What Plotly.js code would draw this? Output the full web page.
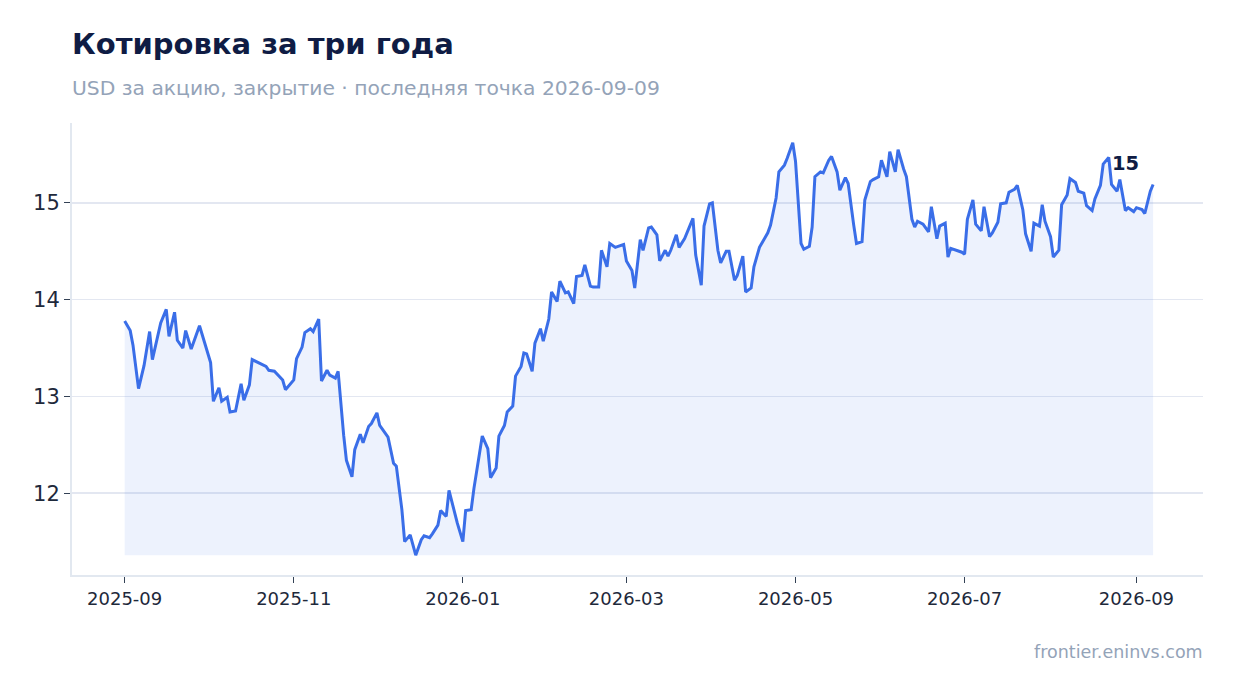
<!DOCTYPE html>
<html>
<head>
<meta charset="utf-8">
<script src="https://cdn.plot.ly/plotly-3.0.1.min.js"></script>
<style>
  html, body { margin: 0; padding: 0; background: #ffffff; }
  #chart { width: 1234px; height: 693px; }
</style>
</head>
<body>
<div id="chart"></div>
<script>
// ------------------------------------------------------------
// данные
// ------------------------------------------------------------
const dates = [
  '2025-09-01','2025-09-03','2025-09-04','2025-09-06','2025-09-08','2025-09-10','2025-09-11','2025-09-14',
  '2025-09-16','2025-09-17','2025-09-19','2025-09-20','2025-09-22','2025-09-23','2025-09-25','2025-09-28',
  '2025-10-02','2025-10-03','2025-10-05','2025-10-06','2025-10-08','2025-10-09','2025-10-11','2025-10-13',
  '2025-10-14','2025-10-16','2025-10-17','2025-10-20','2025-10-22','2025-10-23','2025-10-25','2025-10-28',
  '2025-10-29','2025-11-01','2025-11-02','2025-11-04','2025-11-05','2025-11-07','2025-11-08','2025-11-10',
  '2025-11-11','2025-11-13','2025-11-14','2025-11-16','2025-11-17','2025-11-19','2025-11-20','2025-11-22',
  '2025-11-23','2025-11-25','2025-11-26','2025-11-28','2025-11-29','2025-12-01','2025-12-02','2025-12-05',
  '2025-12-07','2025-12-08','2025-12-10','2025-12-11','2025-12-13','2025-12-15','2025-12-17','2025-12-18',
  '2025-12-20','2025-12-21','2025-12-23','2025-12-24','2025-12-26','2025-12-27','2025-12-29','2025-12-30',
  '2026-01-01','2026-01-02','2026-01-04','2026-01-05','2026-01-07','2026-01-08','2026-01-10','2026-01-11',
  '2026-01-13','2026-01-14','2026-01-16','2026-01-17','2026-01-19','2026-01-20','2026-01-22','2026-01-23',
  '2026-01-24','2026-01-26','2026-01-27','2026-01-29','2026-01-30','2026-02-01','2026-02-02','2026-02-04',
  '2026-02-05','2026-02-07','2026-02-08','2026-02-10','2026-02-11','2026-02-13','2026-02-14','2026-02-16',
  '2026-02-17','2026-02-19','2026-02-20','2026-02-22','2026-02-23','2026-02-25','2026-02-26','2026-02-28',
  '2026-03-01','2026-03-03','2026-03-04','2026-03-06','2026-03-07','2026-03-09','2026-03-10','2026-03-12',
  '2026-03-13','2026-03-15','2026-03-16','2026-03-17','2026-03-19','2026-03-20','2026-03-22','2026-03-23',
  '2026-03-25','2026-03-26','2026-03-28','2026-03-29','2026-03-31','2026-04-01','2026-04-03','2026-04-04',
  '2026-04-06','2026-04-07','2026-04-09','2026-04-10','2026-04-12','2026-04-13','2026-04-15','2026-04-16',
  '2026-04-18','2026-04-19','2026-04-21','2026-04-22','2026-04-24','2026-04-25','2026-04-27','2026-04-28',
  '2026-04-30','2026-05-01','2026-05-03','2026-05-04','2026-05-06','2026-05-07','2026-05-08','2026-05-10',
  '2026-05-11','2026-05-13','2026-05-14','2026-05-16','2026-05-17','2026-05-19','2026-05-20','2026-05-22',
  '2026-05-23','2026-05-25','2026-05-26','2026-05-28','2026-05-29','2026-05-31','2026-06-01','2026-06-03',
  '2026-06-04','2026-06-06','2026-06-07','2026-06-09','2026-06-10','2026-06-12','2026-06-13','2026-06-14',
  '2026-06-16','2026-06-18','2026-06-19','2026-06-21','2026-06-22','2026-06-24','2026-06-25','2026-06-26',
  '2026-06-28','2026-06-30','2026-07-01','2026-07-02','2026-07-04','2026-07-05','2026-07-07','2026-07-08',
  '2026-07-10','2026-07-11','2026-07-13','2026-07-14','2026-07-16','2026-07-17','2026-07-19','2026-07-20',
  '2026-07-22','2026-07-23','2026-07-25','2026-07-26','2026-07-28','2026-07-29','2026-07-30','2026-08-01',
  '2026-08-02','2026-08-04','2026-08-05','2026-08-07','2026-08-08','2026-08-10','2026-08-11','2026-08-13',
  '2026-08-14','2026-08-16','2026-08-17','2026-08-19','2026-08-20','2026-08-22','2026-08-23','2026-08-25',
  '2026-08-26','2026-08-28','2026-08-29','2026-08-31','2026-09-01','2026-09-03','2026-09-04','2026-09-06',
  '2026-09-07'
]

const closePrices = [
  13.78, 13.68, 13.53, 13.08, 13.32, 13.67, 13.38, 13.76,
  13.90, 13.62, 13.87, 13.58, 13.50, 13.68, 13.49, 13.73,
  13.35, 12.95, 13.09, 12.95, 12.99, 12.84, 12.85, 13.13,
  12.96, 13.12, 13.38, 13.34, 13.31, 13.27, 13.26, 13.17,
  13.07, 13.17, 13.39, 13.51, 13.66, 13.70, 13.67, 13.80,
  13.16, 13.27, 13.22, 13.19, 13.26, 12.60, 12.34, 12.17,
  12.45, 12.61, 12.52, 12.69, 12.72, 12.83, 12.70, 12.58,
  12.31, 12.28, 11.83, 11.50, 11.57, 11.36, 11.52, 11.56,
  11.54, 11.58, 11.67, 11.82, 11.76, 12.03, 11.79, 11.69,
  11.50, 11.82, 11.83, 12.05, 12.41, 12.59, 12.46, 12.16,
  12.26, 12.59, 12.70, 12.84, 12.90, 13.21, 13.31, 13.45,
  13.44, 13.26, 13.55, 13.70, 13.57, 13.80, 14.08, 13.98,
  14.19, 14.07, 14.08, 13.96, 14.24, 14.25, 14.36, 14.14,
  14.13, 14.13, 14.51, 14.34, 14.58, 14.54, 14.55, 14.57,
  14.40, 14.30, 14.12, 14.62, 14.51, 14.74, 14.75, 14.67,
  14.40, 14.51, 14.45, 14.51, 14.67, 14.54, 14.63, 14.70,
  14.84, 14.46, 14.15, 14.76, 14.99, 15.00, 14.51, 14.38,
  14.50, 14.50, 14.20, 14.25, 14.45, 14.08, 14.12, 14.34,
  14.54, 14.59, 14.69, 14.77, 15.05, 15.32, 15.39, 15.46,
  15.62, 15.43, 14.58, 14.52, 14.55, 14.75, 15.27, 15.32,
  15.31, 15.44, 15.48, 15.32, 15.13, 15.26, 15.20, 14.77,
  14.58, 14.60, 15.03, 15.22, 15.24, 15.27, 15.44, 15.27,
  15.53, 15.32, 15.55, 15.35, 15.27, 14.83, 14.75, 14.81,
  14.78, 14.70, 14.96, 14.63, 14.76, 14.79, 14.44, 14.53,
  14.51, 14.49, 14.47, 14.83, 15.03, 14.78, 14.71, 14.96,
  14.65, 14.69, 14.80, 14.99, 15.00, 15.11, 15.14, 15.18,
  14.93, 14.68, 14.50, 14.79, 14.76, 14.98, 14.81, 14.65,
  14.44, 14.51, 14.98, 15.08, 15.25, 15.21, 15.12, 15.10,
  14.97, 14.92, 15.04, 15.18, 15.40, 15.47, 15.19, 15.12,
  15.24, 14.92, 14.95, 14.91, 14.95, 14.93, 14.89, 15.12,
  15.19
]

const yTicks = [12, 13, 14, 15]

// ------------------------------------------------------------
// графика
// ------------------------------------------------------------
const lineColor = '#3a6ee8'
const minPrice = Math.min(...closePrices)
const lastDate = dates[dates.length - 1]
const lastPrice = closePrices[closePrices.length - 1]

// нижняя граница заливки (по минимуму ряда)
const baseTrace = {
  x: dates,
  y: dates.map(() => minPrice),
  type: 'scatter',
  mode: 'lines',
  line: { width: 0, color: 'rgba(0,0,0,0)' },
  hoverinfo: 'skip',
  showlegend: false
}

const priceTrace = {
  x: dates,
  y: closePrices,
  type: 'scatter',
  mode: 'lines',
  fill: 'tonexty',
  fillcolor: 'rgba(58,110,232,0.09)',
  line: { color: lineColor, width: 3 },
  showlegend: false
}

const layout = {
  width: 1234,
  height: 693,
  paper_bgcolor: '#ffffff',
  plot_bgcolor: '#ffffff',
  font: { family: 'DejaVu Sans, sans-serif', color: '#1e293b' },
  margin: { l: 72, r: 31, t: 123, b: 118 },
  title: {
    text: '<b>Котировка за три года</b>',
    font: { size: 29, color: '#0f1c44', family: 'DejaVu Sans, sans-serif' },
    xref: 'container', yref: 'container',
    x: 72 / 1234, xanchor: 'left',
    y: 1 - 44 / 693, yanchor: 'middle'
  },
  xaxis: {
    type: 'date',
    range: ['2025-08-13', '2026-09-25'],
    tick0: '2025-09-01',
    dtick: 'M2',
    tickformat: '%Y-%m',
    ticks: 'outside',
    ticklen: 6,
    tickcolor: '#334155',
    tickfont: { size: 18, color: '#1e293b' },
    showgrid: false,
    showline: true,
    linecolor: '#e2e8f0',
    linewidth: 2,
    zeroline: false
  },
  yaxis: {
    range: [11.155, 15.825],
    tickvals: yTicks,
    ticks: 'outside',
    ticklen: 6,
    tickcolor: '#334155',
    tickfont: { size: 21, color: '#1e293b' },
    showgrid: true,
    gridcolor: '#e3e7f1',
    gridwidth: 1.5,
    showline: true,
    linecolor: '#e2e8f0',
    linewidth: 2,
    zeroline: false
  },
  annotations: [
    {
      text: 'USD за акцию, закрытие · последняя точка 2026-09-09',
      xref: 'paper', yref: 'paper',
      x: 0, y: (575 - 88) / 452,
      xanchor: 'left', yanchor: 'middle',
      xshift: -2,
      showarrow: false,
      font: { size: 20.3, color: '#94a3b8' }
    },
    {
      text: 'frontier.eninvs.com',
      xref: 'paper', yref: 'paper',
      x: 1, y: (575 - 652) / 452,
      xanchor: 'right', yanchor: 'middle',
      xshift: 2,
      showarrow: false,
      font: { size: 17.5, color: '#94a3b8' }
    },
    {
      // подпись последнего значения
      text: '<b>' + lastPrice.toFixed(0) + '</b>',
      x: lastDate, y: lastPrice,
      xanchor: 'right', yanchor: 'middle',
      xshift: -12, yshift: 21,
      showarrow: false,
      font: { size: 19.5, color: '#0f1c44' }
    }
  ]
}

Plotly.newPlot('chart', [baseTrace, priceTrace], layout, { displayModeBar: false, staticPlot: true })
</script>
</body>
</html>
